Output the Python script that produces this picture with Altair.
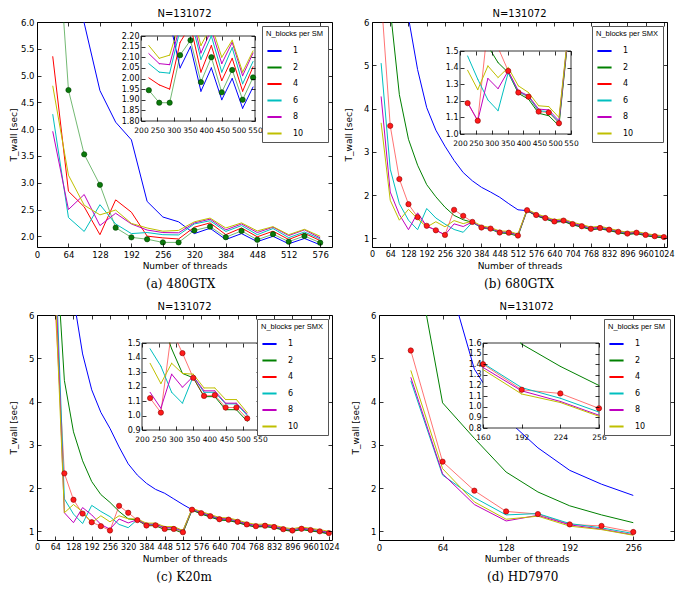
import altair as alt
import pandas as pd

SERIES = ["1", "2", "4", "6", "8", "10"]
COLORS = ["#0000ff", "#008000", "#ff0000", "#00bfbf", "#bf00bf", "#bfbf00"]
FONT = "DejaVu Sans"
W, H = 295, 225

# ---------------- (a) 480GTX ----------------
threads_a = [32, 64, 96, 128, 160, 192, 224, 256, 288, 320, 352, 384, 416, 448, 480, 512, 544, 576]
a_n1 = [20.0, 9.0, 5.98, 4.72, 4.13, 3.80, 2.65, 2.36, 2.27, 2.05, 2.15, 1.94, 2.05, 1.90, 2.00, 1.86, 1.96, 1.84]
a_n2 = [9.0, 4.73, 3.53, 2.96, 2.16, 1.98, 1.945, 1.886, 1.886, 2.11, 2.18, 1.983, 2.10, 1.935, 2.04, 1.90, 2.005, 1.88]
a_n4 = [5.36, 2.84, 2.55, 2.03, 2.68, 2.45, 2.003, 1.97, 1.95, 2.17, 2.25, 2.03, 2.155, 1.99, 2.095, 1.94, 2.055, 1.92]
a_n6 = [4.28, 2.35, 2.09, 2.59, 2.23, 2.05, 2.07, 2.03, 2.025, 2.23, 2.29, 2.09, 2.20, 2.03, 2.145, 1.975, 2.08, 1.95]
a_n8 = [3.96, 2.50, 2.78, 2.20, 2.43, 2.23, 2.117, 2.07, 2.065, 2.25, 2.32, 2.12, 2.23, 2.07, 2.17, 2.013, 2.12, 1.97]
a_n10 = [4.81, 3.14, 2.58, 2.40, 2.49, 2.24, 2.155, 2.095, 2.11, 2.27, 2.34, 2.155, 2.25, 2.10, 2.18, 2.03, 2.13, 2.00]

# ---------------- (b) 680GTX ----------------
threads_b = [32, 64, 96, 128, 160, 192, 224, 256, 288, 320, 352, 384, 416, 448, 480, 512,
             544, 576, 608, 640, 672, 704, 736, 768, 800, 832, 864, 896, 928, 960, 992, 1024]
b_n1 = [30.0, 15.0, 9.0, 6.1, 4.9, 4.02, 3.5, 3.13, 2.8, 2.52, 2.33, 2.18, 2.07, 1.95, 1.80, 1.66,
        1.64, 1.53, 1.46, 1.38, 1.40, 1.32, 1.27, 1.21, 1.23, 1.19, 1.14, 1.10, 1.12, 1.07, 1.04, 1.02]
b_n2 = [12.0, 6.3, 4.32, 3.29, 2.69, 2.24, 1.96, 1.72, 1.53, 1.43, 1.37, 1.245, 1.21, 1.125, 1.11, 1.05,
        1.64, 1.52, 1.45, 1.37, 1.39, 1.31, 1.26, 1.20, 1.22, 1.18, 1.13, 1.09, 1.11, 1.06, 1.03, 1.01]
b_n4 = [6.6, 3.6, 2.37, 1.79, 1.49, 1.29, 1.186, 1.08, 1.66, 1.52, 1.38, 1.25, 1.225, 1.135, 1.13, 1.065,
        1.65, 1.54, 1.47, 1.39, 1.41, 1.33, 1.28, 1.22, 1.24, 1.20, 1.15, 1.11, 1.13, 1.08, 1.05, 1.03]
b_n6 = [5.05, 2.6, 1.8, 1.42, 1.2, 1.69, 1.47, 1.33, 1.205, 1.14, 1.37, 1.255, 1.225, 1.14, 1.135, 1.07,
        1.66, 1.55, 1.48, 1.40, 1.42, 1.34, 1.29, 1.23, 1.25, 1.21, 1.16, 1.12, 1.14, 1.09, 1.06, 1.04]
b_n8 = [4.28, 2.07, 1.55, 1.2, 1.59, 1.28, 1.19, 1.08, 1.335, 1.273, 1.38, 1.26, 1.23, 1.15, 1.145, 1.08,
        1.66, 1.55, 1.48, 1.41, 1.43, 1.35, 1.30, 1.24, 1.26, 1.22, 1.17, 1.13, 1.15, 1.10, 1.07, 1.05]
b_n10 = [3.67, 1.88, 1.42, 1.67, 1.45, 1.26, 1.384, 1.267, 1.41, 1.34, 1.40, 1.29, 1.25, 1.17, 1.165, 1.10,
         1.67, 1.57, 1.50, 1.43, 1.45, 1.37, 1.32, 1.26, 1.28, 1.23, 1.18, 1.14, 1.16, 1.11, 1.08, 1.06]

# ---------------- (c) K20m ----------------
threads_c = threads_b
c_n1 = [40.0, 18.0, 9.0, 6.4, 5.1, 4.27, 3.75, 3.38, 2.95, 2.56, 2.3, 2.11, 1.97, 1.88, 1.75, 1.62,
        1.50, 1.41, 1.34, 1.27, 1.26, 1.21, 1.15, 1.11, 1.12, 1.09, 1.04, 1.01, 1.05, 1.02, 0.99, 0.95]
c_n2 = [30.0, 7.9, 4.49, 3.3, 2.63, 2.15, 1.85, 1.67, 1.46, 1.29, 1.26, 1.13, 1.13, 1.04, 1.04, 0.96,
        1.49, 1.40, 1.33, 1.26, 1.25, 1.20, 1.14, 1.10, 1.11, 1.08, 1.03, 1.00, 1.04, 1.01, 0.98, 0.94]
c_n4 = [30.0, 6.15, 2.34, 1.73, 1.41, 1.21, 1.12, 1.02, 1.59, 1.43, 1.26, 1.135, 1.14, 1.055, 1.055, 0.98,
        1.50, 1.42, 1.35, 1.28, 1.27, 1.22, 1.16, 1.12, 1.13, 1.10, 1.05, 1.02, 1.06, 1.03, 1.00, 0.96]
c_n6 = [25.0, 7.5, 1.75, 1.4, 1.18, 1.6, 1.46, 1.34, 1.16, 1.085, 1.27, 1.16, 1.16, 1.08, 1.08, 1.0,
        1.51, 1.43, 1.36, 1.29, 1.28, 1.23, 1.17, 1.13, 1.14, 1.11, 1.06, 1.03, 1.07, 1.04, 1.01, 0.97]
c_n8 = [22.0, 7.0, 1.43, 1.2, 1.55, 1.38, 1.16, 1.05, 1.285, 1.195, 1.27, 1.17, 1.17, 1.085, 1.085, 1.01,
        1.52, 1.44, 1.37, 1.30, 1.29, 1.24, 1.18, 1.14, 1.15, 1.12, 1.07, 1.04, 1.08, 1.05, 1.02, 0.98]
c_n10 = [20.0, 6.5, 1.43, 1.62, 1.45, 1.2, 1.36, 1.22, 1.36, 1.29, 1.285, 1.19, 1.19, 1.11, 1.11, 1.02,
         1.53, 1.46, 1.39, 1.32, 1.31, 1.26, 1.20, 1.16, 1.17, 1.14, 1.09, 1.06, 1.10, 1.07, 1.04, 1.00]

# ---------------- (d) HD7970 ----------------
threads_d = [32, 64, 96, 128, 160, 192, 224, 256]
d_n1 = [14.7, 7.3, 4.75, 3.6, 2.93, 2.41, 2.09, 1.83]
d_n2 = [7.97, 3.97, 3.15, 2.37, 1.91, 1.59, 1.38, 1.2]
d_n4 = [5.18, 2.61, 1.94, 1.46, 1.40, 1.16, 1.125, 0.985]
d_n6 = [4.48, 2.30, 1.78, 1.38, 1.41, 1.18, 1.08, 0.95]
d_n8 = [4.56, 2.33, 1.62, 1.24, 1.37, 1.15, 1.05, 0.92]
d_n10 = [4.72, 2.45, 1.68, 1.28, 1.35, 1.12, 1.04, 0.91]

# ---------------- axis ticks ----------------
xt_a = [0, 64, 128, 192, 256, 320, 384, 448, 512, 576]
xt_bc = [0, 64, 128, 192, 256, 320, 384, 448, 512, 576, 640, 704, 768, 832, 896, 960, 1024]
xt_d = [0, 64, 128, 192, 256]
yt_a = [2.0, 2.5, 3.0, 3.5, 4.0, 4.5, 5.0, 5.5, 6.0]
yt_bcd = [1, 2, 3, 4, 5, 6]
ixt_abc = [200, 250, 300, 350, 400, 450, 500, 550]
ixt_d = [160, 192, 224, 256]
iyt_a = [1.80, 1.85, 1.90, 1.95, 2.00, 2.05, 2.10, 2.15, 2.20]
iyt_b = [1.0, 1.1, 1.2, 1.3, 1.4, 1.5]
iyt_c = [0.9, 1.0, 1.1, 1.2, 1.3, 1.4, 1.5]
iyt_d = [0.8, 0.9, 1.0, 1.1, 1.2, 1.3, 1.4, 1.5, 1.6]


def long_df(threads, cols):
    rows = []
    for s, vals in zip(SERIES, cols):
        for t, v in zip(threads, vals):
            rows.append({"threads": t, "T": v, "n": s})
    return pd.DataFrame(rows)


def tick_axis(orient, offset, values):
    return alt.Axis(orient=orient, offset=offset, values=values, labels=False,
                    domain=False, ticks=True, tickSize=4, tickWidth=0.8,
                    tickColor="black", grid=False, title=None, zindex=1)


def panel(df, hl, dot_fill, dot_edge, xmax, ymin, xticks, yticks, yfmt, xlab_size,
          inset, leg_title, caption):
    (ix0, ix1, iy0, iy1, dmin, dmax, fx0, fx1, fy0, fy1, ixt, iyt, iyfmt) = inset
    L, R = round(fx0 * W), round(fx1 * W)
    TOP, BOT = round(fy0 * H), round(fy1 * H)
    xs = alt.Scale(domain=[0, xmax], nice=False, zero=False)
    ys = alt.Scale(domain=[ymin, 6], nice=False, zero=False)
    cs = alt.Scale(domain=SERIES, range=COLORS)
    ixs = alt.Scale(domain=[ix0, ix1], range=[L, R], nice=False, zero=False)
    iys = alt.Scale(domain=[iy0, iy1], range=[BOT, TOP], nice=False, zero=False)
    op = alt.condition(alt.datum.n == hl, alt.value(0.55), alt.value(1.0))
    base = alt.Chart(df)

    main = base.mark_line(clip=True, strokeWidth=1).encode(
        x=alt.X("threads:Q", scale=xs, axis=alt.Axis(
            orient="bottom", values=xticks, format="d", title="Number of threads",
            tickSize=0, domain=False, labelPadding=3, labelFlush=False,
            labelFontSize=xlab_size, labelOverlap=False, titlePadding=3, grid=False)),
        y=alt.Y("T:Q", scale=ys, axis=alt.Axis(
            orient="left", values=yticks, format=yfmt, title="T_wall [sec]",
            tickSize=0, domain=False, labelPadding=3, labelFlush=False,
            labelOverlap=False, titlePadding=2, minExtent=17, maxExtent=17, grid=False)),
        color=alt.Color("n:N", scale=cs, legend=alt.Legend(title=leg_title, zindex=5)),
        opacity=op,
    )
    dots = base.transform_filter(alt.datum.n == hl).mark_point(
        filled=True, shape="circle", size=28, clip=True, opacity=1,
        stroke=dot_edge, strokeWidth=0.6).encode(
        x=alt.X("threads:Q", scale=xs, axis=tick_axis("bottom", -4, xticks)),
        y=alt.Y("T:Q", scale=ys, axis=tick_axis("left", -4, yticks)),
        fill=alt.value(dot_fill))
    ticks_tr = base.mark_point(opacity=0, clip=True).encode(
        x=alt.X("threads:Q", scale=xs, axis=tick_axis("top", -4, xticks)),
        y=alt.Y("T:Q", scale=ys, axis=tick_axis("right", -4, yticks)))

    box_df = pd.DataFrame({"x0": [ix0], "x1": [ix1], "y0": [iy0], "y1": [iy1]})
    box = alt.Chart(box_df).mark_rect(fill="white", stroke="black", strokeWidth=0.8).encode(
        x=alt.X("x0:Q", scale=ixs, axis=alt.Axis(
            orient="bottom", offset=BOT - H, values=ixt, format="d", tickSize=0,
            domain=False, labelPadding=5, labelFlush=False, labelOverlap=False,
            labelFontSize=7.5, title=None, grid=False, zindex=1)),
        x2="x1:Q",
        y=alt.Y("y0:Q", scale=iys, axis=alt.Axis(
            orient="left", offset=-L, values=iyt, format=iyfmt, tickSize=0,
            domain=False, labelPadding=2, labelFlush=False, labelOverlap=False,
            labelFontSize=8, title=None, grid=False, zindex=1)),
        y2="y1:Q")

    X0, X1, Y0, Y1 = ix0, ix1, iy0, iy1
    inx = f"(datum.threads >= {X0} && datum.threads <= {X1})"
    iny = f"(datum.T >= {Y0} && datum.T <= {Y1})"
    ibase = base.transform_filter(f"datum.threads >= {dmin} && datum.threads <= {dmax}")
    segs = (ibase
            .transform_window(nx="lead(threads)", ny="lead(T)", groupby=["n"],
                              sort=[alt.SortField("threads")])
            .transform_filter("isValid(datum.nx)")
            .transform_calculate(dx="datum.nx - datum.threads")
            .transform_calculate(dy="datum.ny - datum.T")
            .transform_calculate(txa=f"datum.dx > 0 ? ({X0} - datum.threads) / datum.dx : (datum.dx < 0 ? ({X1} - datum.threads) / datum.dx : ({inx} ? -1e9 : 1e9))")
            .transform_calculate(txb=f"datum.dx > 0 ? ({X1} - datum.threads) / datum.dx : (datum.dx < 0 ? ({X0} - datum.threads) / datum.dx : ({inx} ? 1e9 : -1e9))")
            .transform_calculate(tya=f"datum.dy > 0 ? ({Y0} - datum.T) / datum.dy : (datum.dy < 0 ? ({Y1} - datum.T) / datum.dy : ({iny} ? -1e9 : 1e9))")
            .transform_calculate(tyb=f"datum.dy > 0 ? ({Y1} - datum.T) / datum.dy : (datum.dy < 0 ? ({Y0} - datum.T) / datum.dy : ({iny} ? 1e9 : -1e9))")
            .transform_calculate(t0="max(0, datum.txa, datum.tya)")
            .transform_calculate(t1="min(1, datum.txb, datum.tyb)")
            .transform_filter("datum.t1 > datum.t0")
            .transform_calculate(cx0="datum.threads + datum.t0 * datum.dx")
            .transform_calculate(cy0="datum.T + datum.t0 * datum.dy")
            .transform_calculate(cx1="datum.threads + datum.t1 * datum.dx")
            .transform_calculate(cy1="datum.T + datum.t1 * datum.dy")
            .mark_rule(strokeWidth=1, strokeCap="round")
            .encode(
                x=alt.X("cx0:Q", scale=ixs, axis=tick_axis("bottom", BOT - 4 - H, ixt)),
                x2="cx1:Q",
                y=alt.Y("cy0:Q", scale=iys, axis=tick_axis("left", -(L + 4), iyt)),
                y2="cy1:Q",
                color=alt.Color("n:N", scale=cs, legend=None),
                opacity=op))
    idots = (ibase.transform_filter(alt.datum.n == hl)
             .transform_filter(f"{inx} && {iny}")
             .mark_point(filled=True, shape="circle", size=28, opacity=1,
                         stroke=dot_edge, strokeWidth=0.6)
             .encode(
                 x=alt.X("threads:Q", scale=ixs, axis=tick_axis("top", -(TOP + 4), ixt)),
                 y=alt.Y("T:Q", scale=iys, axis=tick_axis("right", R - 4 - W, iyt)),
                 fill=alt.value(dot_fill)))

    lay = (alt.layer(main, dots, ticks_tr, box, segs, idots)
           .resolve_scale(x="independent", y="independent")
           .properties(width=W, height=H,
                       title=alt.Title("N=131072", fontSize=10, fontWeight="normal",
                                       font=FONT, offset=-1)))
    return (alt.vconcat(lay, title=alt.Title(caption, orient="bottom", font="DejaVu Serif",
                                             fontSize=12, fontWeight="normal", offset=8,
                                             anchor="middle", dx=10))
            .resolve_scale(color="independent").resolve_legend(color="independent"))


df_a = long_df(threads_a, [a_n1, a_n2, a_n4, a_n6, a_n8, a_n10])
df_b = long_df(threads_b, [b_n1, b_n2, b_n4, b_n6, b_n8, b_n10])
df_c = long_df(threads_c, [c_n1, c_n2, c_n4, c_n6, c_n8, c_n10])
df_d = long_df(threads_d, [d_n1, d_n2, d_n4, d_n6, d_n8, d_n10])

pa = panel(df_a, "2", "#0a7a0a", "#004000", 600, 1.8, xt_a, yt_a, ".1f", 8.5,
           (200, 550, 1.8, 2.2, 224, 544, 0.354, 0.738, 0.060, 0.438, ixt_abc, iyt_a, ".2f"),
           "N_blocks per SM", "(a) 480GTX")
pb = panel(df_b, "4", "#ff1a1a", "#900000", 1035, 0.8, xt_bc, yt_bcd, "d", 8,
           (200, 550, 1.0, 1.5, 224, 544, 0.297, 0.673, 0.129, 0.498, ixt_abc, iyt_b, ".1f"),
           "N_blocks per SMX", "(b) 680GTX")
pc = panel(df_c, "4", "#ff1a1a", "#900000", 1035, 0.8, xt_bc, yt_bcd, "d", 8,
           (200, 550, 0.9, 1.5, 224, 512, 0.357, 0.756, 0.124, 0.513, ixt_abc, iyt_c, ".1f"),
           "N_blocks per SMX", "(c) K20m")
pd_ = panel(df_d, "4", "#ff1a1a", "#900000", 297, 0.8, xt_d, yt_bcd, "d", 8.5,
            (160, 256, 0.8, 1.6, 160, 256, 0.354, 0.745, 0.124, 0.504, ixt_d, iyt_d, ".1f"),
            "N_blocks per SM", "(d) HD7970")

row1 = (alt.hconcat(pa, pb, spacing=10)
        .resolve_scale(color="independent").resolve_legend(color="independent"))
row2 = (alt.hconcat(pc, pd_, spacing=10)
        .resolve_scale(color="independent").resolve_legend(color="independent"))

chart = (alt.vconcat(row1, row2, spacing=11)
         .resolve_scale(color="independent").resolve_legend(color="independent")
         .properties(padding=0)
         .configure_view(stroke="black", strokeWidth=1)
         .configure_axis(labelFont=FONT, titleFont=FONT, labelFontSize=8.5,
                         titleFontSize=9, titleFontWeight="normal",
                         labelColor="black", titleColor="black", tickColor="black")
         .configure_legend(orient="top-right", offset=4, padding=4, strokeColor="#555555",
                           fillColor="white", titleFont="Liberation Sans", titleFontSize=7.5,
                           titleFontWeight="normal", titleColor="black", labelFont=FONT,
                           labelFontSize=8, labelColor="black", symbolType="stroke",
                           symbolStrokeWidth=2, symbolSize=200, rowPadding=3.5,
                           labelOffset=10, titlePadding=5, cornerRadius=0)
         .configure_title(font=FONT, color="black"))

chart.save("out.html", embed_options={"renderer": "svg", "actions": False})
